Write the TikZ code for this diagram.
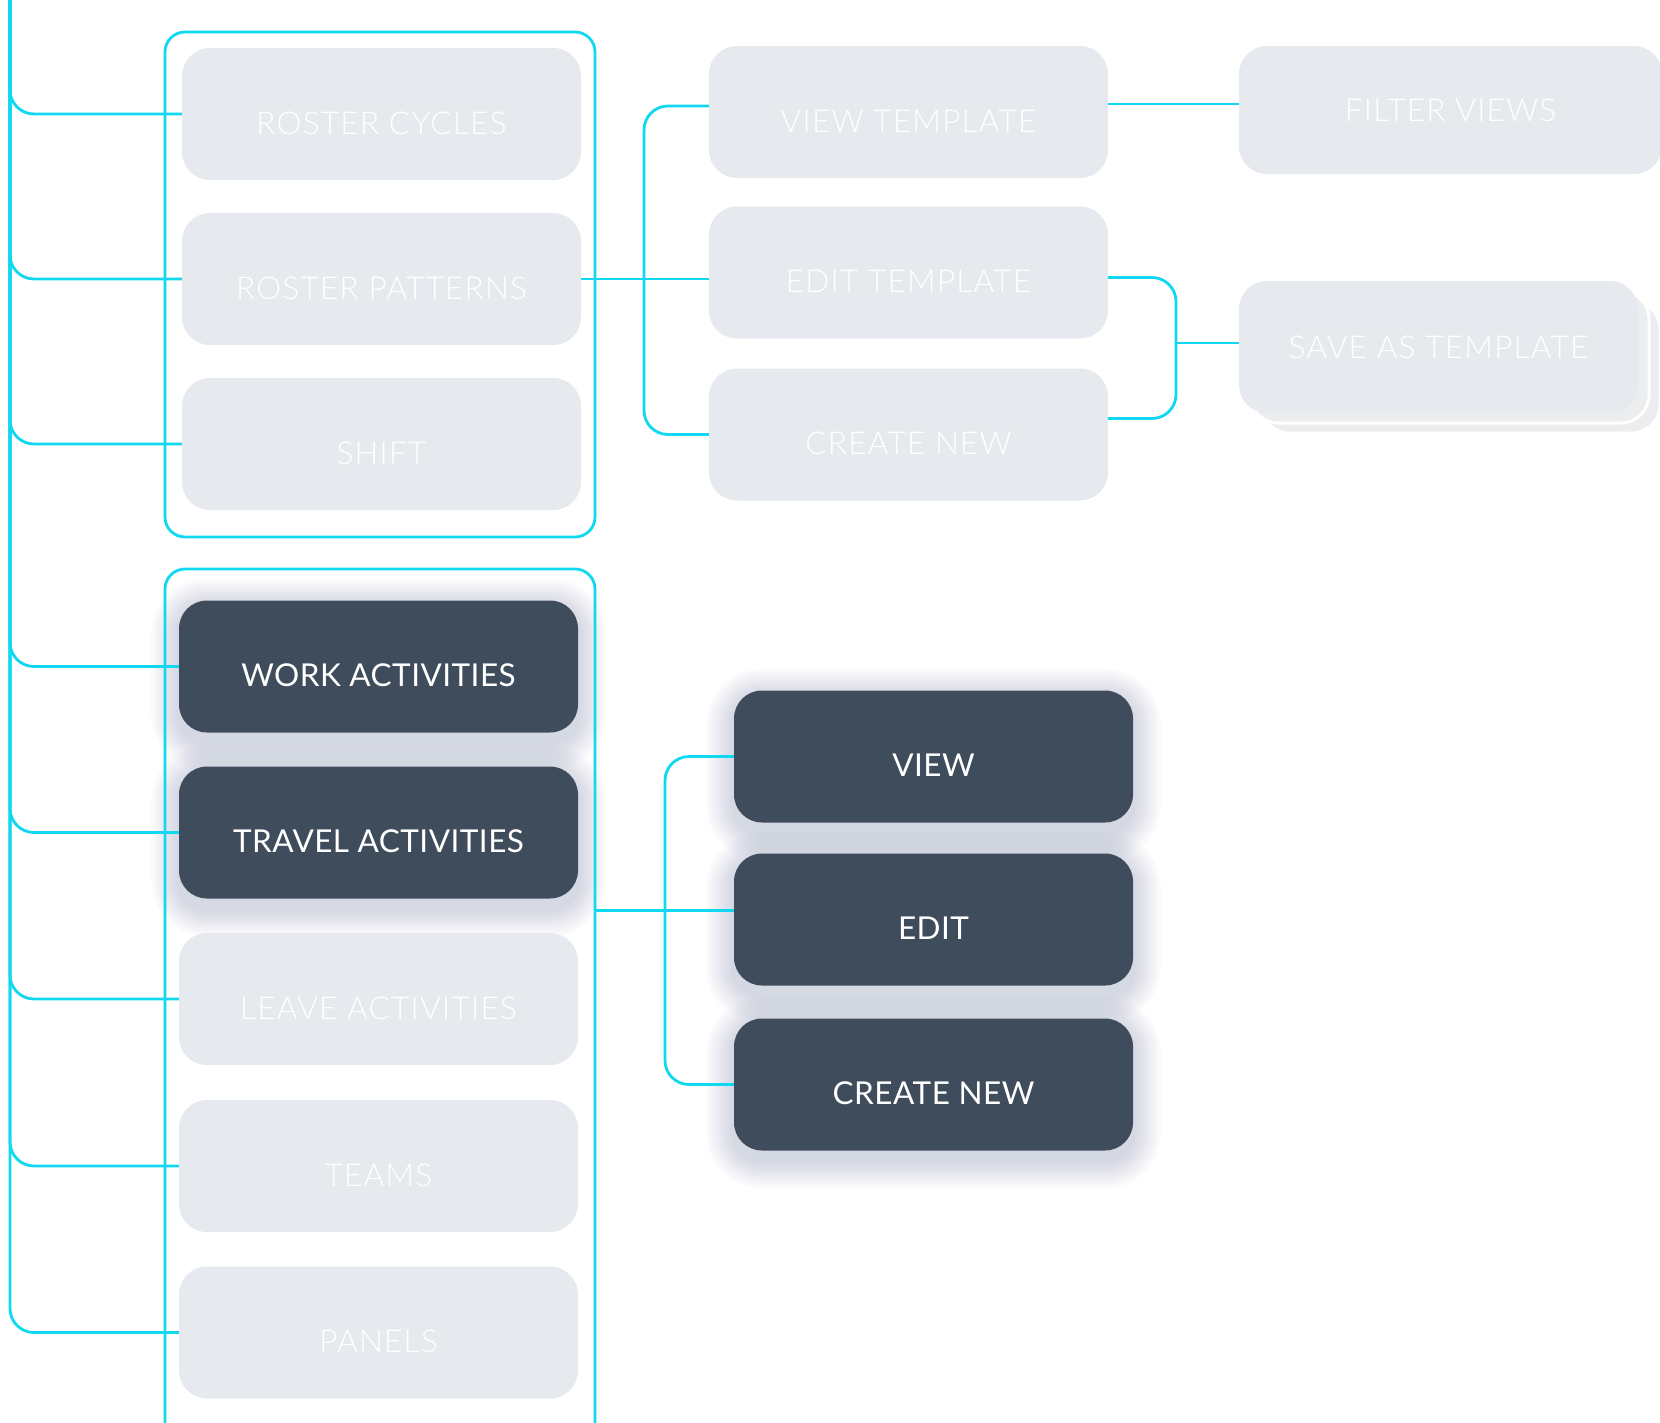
\documentclass[tikz,border=0pt]{standalone}
\usepackage{fontspec}
\setmainfont{Lato}
\newfontfamily\thinlato{Lato Light}[LetterSpace=4]
\newfontfamily\boxlato{Lato}[LetterSpace=1.5]
\usetikzlibrary{calc}
\pgfdeclarelayer{back}
\pgfsetlayers{back,main}
\definecolor{wirec}{RGB}{16,216,240}
\definecolor{paleboxc}{RGB}{230,233,238}
\definecolor{darkboxc}{RGB}{63,76,92}
\definecolor{stackc}{RGB}{236,237,239}
\definecolor{shadowc}{RGB}{85,98,135}

\begin{document}
\begin{tikzpicture}[x=1pt,y=-1pt,
        wire/.style={wirec, line width=2.8pt, rounded corners=24pt},
        group/.style={draw=wirec, line width=2.8pt, rounded corners=20pt, minimum width=430pt, inner sep=0pt},
        card/.style={rectangle, rounded corners=28pt, minimum width=399pt, minimum height=132pt, inner sep=0pt, text height=40pt, text depth=0pt},
        pale/.style={card, fill=paleboxc, text=white, font=\thinlato\fontsize{31.5}{31.5}\selectfont},
        dark/.style={card, fill=darkboxc, text=white, font=\boxlato\fontsize{31.5}{31.5}\selectfont},
        level/.style={text height=23pt},
        stack/.style={pale, fill=stackc, draw=white, line width=3pt}]

        \useasboundingbox (0,0) rectangle (1660,1422);
        \clip (0,0) rectangle (1660,1422);

        % group frames
        \node[group, minimum height=505pt] (grpA) at (380,284.5) {};
        \node[group, minimum height=891pt] (grpB) at (380,1014.5) {};

        % left column
        \node[pale] (rc) at (381.5,114) {ROSTER CYCLES};
        \node[pale] (rp) at (381.5,279) {ROSTER PATTERNS};
        \node[pale] (sh) at (381.5,444) {SHIFT};
        \node[dark] (wa) at (378.5,666.5) {WORK ACTIVITIES};
        \node[dark] (ta) at (378.5,832.5) {TRAVEL ACTIVITIES};
        \node[pale] (la) at (378.5,999) {LEAVE ACTIVITIES};
        \node[pale] (tm) at (378.5,1166) {TEAMS};
        \node[pale] (pn) at (378.5,1332.5) {PANELS};

        % templates
        \node[pale] (vt) at (908.5,112) {VIEW TEMPLATE};
        \node[pale] (et) at (908.5,272.5) {EDIT TEMPLATE};
        \node[pale] (ct) at (908.5,434.5) {CREATE NEW};
        \node[pale, level, minimum width=423pt, minimum height=128pt] (fv) at (1450.5,110) {FILTER VIEWS};
        \node[stack] (sv3) at (1460.5,367) {};
        \node[stack] (sv2) at (1449.5,357) {};
        \node[pale, level] (sv) at (1438.5,347) {SAVE AS TEMPLATE};

        % activity actions
        \node[dark] (vw) at (933.5,756.5) {VIEW};
        \node[dark] (ed) at (933.5,919.5) {EDIT};
        \node[dark] (cw) at (933.5,1084.5) {CREATE NEW};

        % soft shadow under the dark cards
        \begin{pgfonlayer}{back}
                \fill[white] (0,0) rectangle (1660,1422);
                \foreach \n in {wa,ta,vw,ed,cw}
                        \foreach \g in {2,4,...,28}
                                \fill[shadowc, opacity=0.016, rounded corners=28pt+\g pt]
                                        ([shift={(-\g,-\g+6)}]\n.north west) rectangle ([shift={(\g,\g+10)}]\n.south east);
        \end{pgfonlayer}

        % connectors
        \coordinate (trunktop) at (10,-5);
        \foreach \n in {rc,rp,sh,wa,ta,la,tm,pn}
                \draw[wire] (trunktop) |- (\n.west);

        \coordinate (fork1) at (644,270);
        \draw[wire] (rp.east) -- (rp.east -| et.west);
        \draw[wire] ([yshift=6pt]vt.west) -| (fork1) |- (ct.west);

        \draw[wire] ([yshift=8pt]vt.east) -- ([yshift=8pt]vt.east -| fv.west);
        \coordinate (fork2) at (1176,340);
        \draw[wire] ([yshift=-5pt]et.east) -| (fork2) |- ([yshift=16pt]ct.east);
        \draw[wire] ([yshift=4pt]fork2 |- sv.west) -- ([yshift=4pt]sv.west);

        \coordinate (fork3) at (665,900);
        \draw[wire] ([yshift=9pt]ed.west -| grpB.east) -- ([yshift=9pt]ed.west);
        \draw[wire] (vw.west) -| (fork3) |- (cw.west);

\end{tikzpicture}
\end{document}
